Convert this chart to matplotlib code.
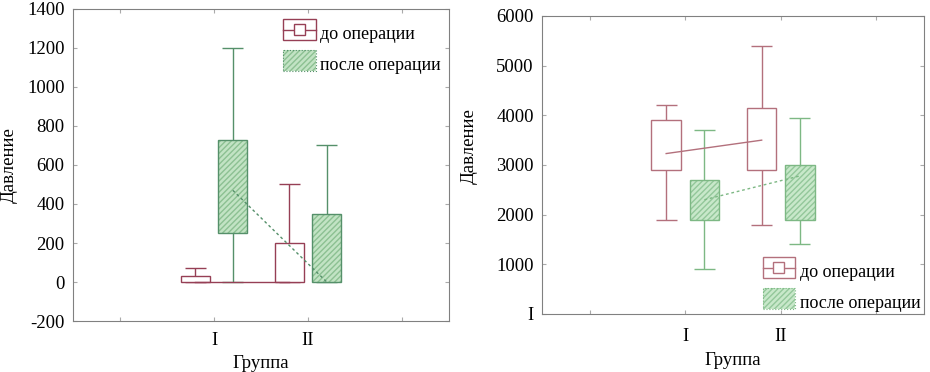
import matplotlib
matplotlib.use("Agg")
import matplotlib.pyplot as plt
from matplotlib.patches import Rectangle
from matplotlib.lines import Line2D
from matplotlib.legend_handler import HandlerBase

plt.rcParams['font.family'] = ['Liberation Serif', 'DejaVu Serif']
plt.rcParams['axes.unicode_minus'] = False

groups = ["I", "II"]
series = ["до операции", "после операции"]

# left chart: (min, q1, median, q3, max) per group
left_before = [(0, 0, 0, 30, 70), (0, 0, 0, 200, 500)]
left_after = [(0, 250, 470, 730, 1200), (0, 0, 0, 350, 700)]

# right chart
right_before = [(1900, 2900, 3230, 3900, 4200), (1800, 2900, 3500, 4150, 5400)]
right_after = [(900, 1900, 2300, 2700, 3700), (1400, 1900, 2780, 3000, 3950)]

left_yticks = [-200, 0, 200, 400, 600, 800, 1000, 1200, 1400]
right_yticks = [0, 1000, 2000, 3000, 4000, 5000, 6000]
right_yticklabels = ["I", "1000", "2000", "3000", "4000", "5000", "6000"]


class BoxHandler(HandlerBase):
    def __init__(self, color, **kw):
        super().__init__(**kw)
        self.color = color

    def create_artists(self, legend, orig_handle, xd, yd, width, height, fontsize, trans):
        r = Rectangle((xd, yd - 2), width, height + 4, fill=False, ec=self.color, lw=1, transform=trans)
        ln = Line2D([xd, xd + width], [yd + height / 2] * 2, color=self.color, lw=1, transform=trans)
        sq = Rectangle((xd + width / 2 - 4, yd + height / 2 - 4), 8, 8, fc="white", ec=self.color,
                       lw=1, transform=trans)
        return [r, ln, sq]


class HatchHandler(HandlerBase):
    def __init__(self, fc, hc, ec, **kw):
        super().__init__(**kw)
        self.fc, self.hc, self.ec = fc, hc, ec

    def create_artists(self, legend, orig_handle, xd, yd, width, height, fontsize, trans):
        r1 = Rectangle((xd, yd - 2), width, height + 4, fc=self.fc, ec=self.hc, hatch="//////",
                       lw=0, transform=trans)
        r2 = Rectangle((xd, yd - 2), width, height + 4, fill=False, ec=self.ec, lw=0.8,
                       linestyle=":", transform=trans)
        return [r1, r2]


def draw_panel(ax, before, after, c_before, c_after, fill, hatch_c):
    centers = [1.5, 2.5]
    off = 0.2
    bw = 0.31
    cw = 0.22
    for stats, dx, kind in ((before, -off, "b"), (after, off, "a")):
        xs = [c + dx for c in centers]
        col = c_before if kind == "b" else c_after
        for x, (lo, q1, med, q3, hi) in zip(xs, stats):
            ax.vlines(x, lo, q1, color=col, lw=1)
            ax.vlines(x, q3, hi, color=col, lw=1)
            ax.hlines([lo, hi], x - cw / 2, x + cw / 2, color=col, lw=1)
            if kind == "b":
                ax.bar(x, q3 - q1, bw, bottom=q1, facecolor="white", edgecolor=col, lw=1, zorder=3)
            else:
                ax.bar(x, q3 - q1, bw, bottom=q1, facecolor=fill, edgecolor=hatch_c, hatch="//////",
                       lw=0, zorder=3)
                ax.bar(x, q3 - q1, bw, bottom=q1, fill=False, edgecolor=col, lw=1, zorder=4)
        meds = [s[2] for s in stats]
        if kind == "b":
            ax.plot(xs, meds, color=col, lw=1, zorder=5)
        else:
            ax.plot(xs, meds, color=col, lw=1, ls=(0, (2, 2)), zorder=5)

    ax.set_xlim(0, 4)
    ax.set_xticks([0.5, 1.5, 2.5, 3.5])
    ax.set_xticklabels(["", groups[0], groups[1], ""])
    ax.set_xlabel("Группа", fontsize=13.5)
    ax.set_ylabel("Давление", fontsize=13.5)
    for s in ax.spines.values():
        s.set_color("#808080")
    ax.tick_params(axis="both", labelsize=13.5, colors="#aaaaaa", direction="in", length=3,
                   top=True, right=True, labelcolor="black")
    ax.tick_params(axis="y", pad=6)


fig = plt.figure(figsize=(9.3, 3.72), dpi=100)
ax1 = fig.add_axes([0.0785, 0.137, 0.4043, 0.839])
ax2 = fig.add_axes([0.5828, 0.156, 0.4108, 0.801])

c1 = ("#963f55", "#55906a", "#c2e3c4", "#8cc092")
c2 = ("#b3707c", "#7db884", "#c8e8ca", "#93c79a")

draw_panel(ax1, left_before, left_after, *c1)
ax1.set_ylim(-200, 1400)
ax1.set_yticks(left_yticks)
ax1.tick_params(axis="x", pad=8)
ax1.yaxis.set_label_coords(-0.147, 0.5)

draw_panel(ax2, right_before, right_after, *c2)
ax2.set_ylim(0, 6000)
ax2.set_yticks(right_yticks)
ax2.set_yticklabels(right_yticklabels)
ax2.tick_params(axis="x", pad=10)
ax2.xaxis.labelpad = 5
ax2.yaxis.set_label_coords(-0.167, 0.564)

h1, h2 = object(), object()
for ax, loc, cols, anchor in ((ax1, "upper right", c1, (0.979, 0.948)),
                              (ax2, "lower right", c2, (0.99, 0.006))):
    cb, ca, fc, hc = cols
    ax.legend([h1, h2], series, loc=loc, bbox_to_anchor=anchor, frameon=False, fontsize=13,
              handler_map={h1: BoxHandler(cb), h2: HatchHandler(fc, hc, ca)},
              handlelength=1.8, handleheight=0.95, handletextpad=0.25, labelspacing=0.72,
              borderaxespad=0, borderpad=0)

fig.savefig("out.png", dpi=100)
